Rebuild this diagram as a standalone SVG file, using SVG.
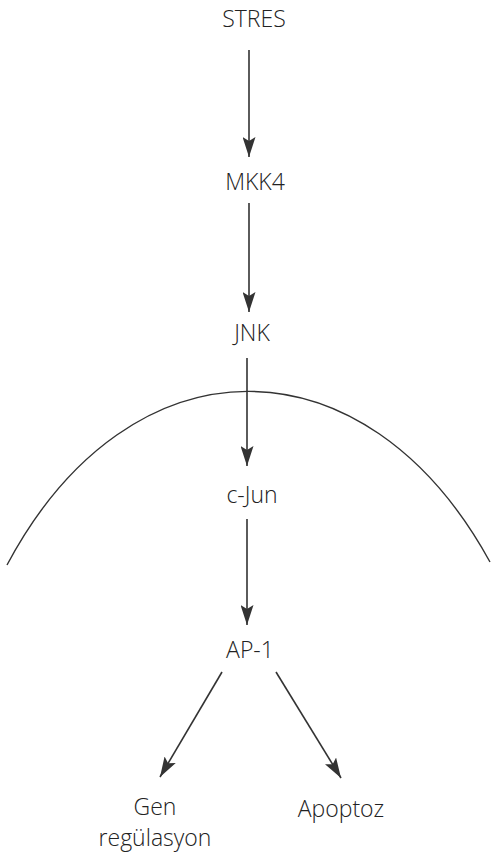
<svg xmlns="http://www.w3.org/2000/svg" width="491" height="855" viewBox="0 0 491 855">
  <defs>
    <marker id="arrow" viewBox="0 0 20 13" refX="20" refY="6.5" markerWidth="20" markerHeight="13" markerUnits="userSpaceOnUse" orient="auto">
      <path d="M0,0 L20,6.5 L0,13 L4,6.5 Z" fill="#333"/>
    </marker>
  </defs>
  <style>
    .lbl { font-family: "Open Sans", "Liberation Sans", sans-serif; font-size: 23px; font-weight: 300; fill: #222; text-anchor: middle; }
    .edge { stroke: #333; stroke-width: 1.6; fill: none; marker-end: url(#arrow); }
    .membrane { stroke: #333; stroke-width: 1.4; fill: none; }
  </style>
  <rect width="491" height="855" fill="#fff"/>

  <!-- nuclear membrane -->
  <path class="membrane" d="M7,565 C130,334 365,334 490,562"/>

  <g id="connectors">
    <line class="edge" x1="249" y1="50" x2="249" y2="157"/>
    <line class="edge" x1="249" y1="203" x2="249" y2="312"/>
    <line class="edge" x1="247" y1="358" x2="247" y2="466"/>
    <line class="edge" x1="247" y1="519" x2="247" y2="625"/>
    <line class="edge" x1="222" y1="672" x2="160" y2="777"/>
    <line class="edge" x1="276" y1="672" x2="341" y2="778"/>
  </g>

  <g id="stres"><text class="lbl" x="254" y="27">STRES</text></g>
  <g id="mkk4"><text class="lbl" x="255" y="190">MKK4</text></g>
  <g id="jnk"><text class="lbl" x="252" y="341">JNK</text></g>
  <g id="cjun"><text class="lbl" x="252" y="503">c-Jun</text></g>
  <g id="ap1"><text class="lbl" x="250" y="658">AP-1</text></g>
  <g id="gen"><text class="lbl" x="155" y="815">Gen</text><text class="lbl" x="155" y="846">regülasyon</text></g>
  <g id="apoptoz"><text class="lbl" x="341" y="817">Apoptoz</text></g>
</svg>
